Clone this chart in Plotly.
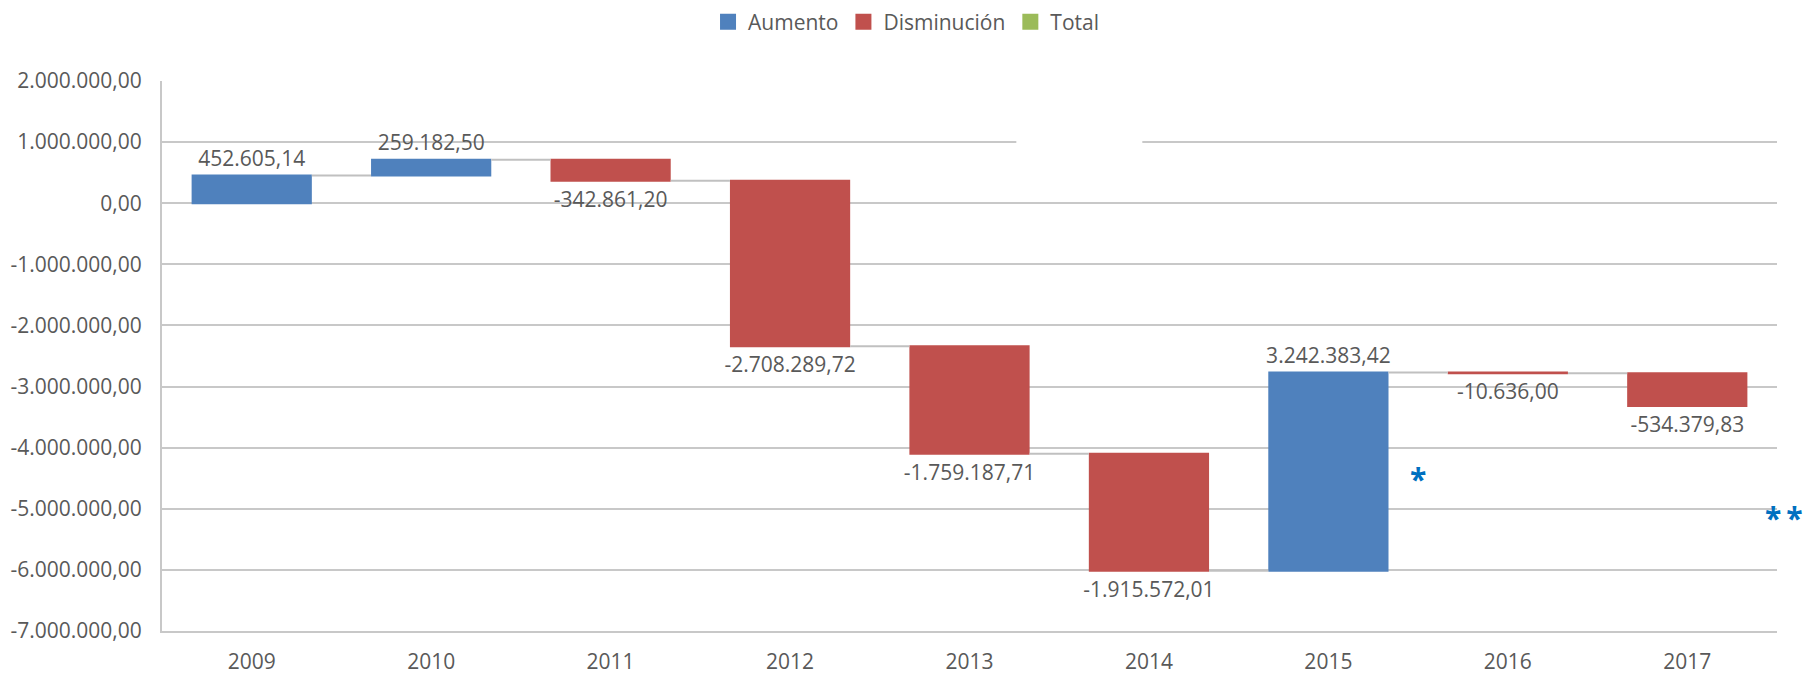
import plotly.graph_objects as go

years = ["2009", "2010", "2011", "2012", "2013", "2014", "2015", "2016", "2017"]
changes = [452605.14, 259182.50, -342861.20, -2708289.72, -1759187.71,
           -1915572.01, 3242383.42, -10636.00, -534379.83]
tick_values = [2e6, 1e6, 0, -1e6, -2e6, -3e6, -4e6, -5e6, -6e6, -7e6]
legend_names = ["Aumento", "Disminución", "Total"]
legend_colors = ["#4F81BD", "#C0504D", "#9BBB59"]


def es_fmt(v):
    s = f"{v:,.2f}"
    return s.replace(",", "X").replace(".", ",").replace("X", ".")


labels = [es_fmt(v) for v in changes]
tick_text = [es_fmt(v) for v in tick_values]

FONT = "Open Sans"
GRAY = "#595959"
GRID = "#C8C8C8"

fig = go.Figure()
fig.add_trace(go.Waterfall(
    x=years,
    y=changes,
    measure=["relative"] * len(changes),
    text=labels,
    textinfo="text",
    textposition="outside",
    constraintext="none",
    textfont=dict(family=FONT, size=21, color=GRAY),
    increasing=dict(marker=dict(color=legend_colors[0], line=dict(width=0))),
    decreasing=dict(marker=dict(color=legend_colors[1], line=dict(width=0))),
    totals=dict(marker=dict(color=legend_colors[2])),
    connector=dict(mode="between", line=dict(color="#C0C0C0", width=2)),
    showlegend=False,
    cliponaxis=False,
    hoverinfo="skip",
))

for name, col in zip(legend_names, legend_colors):
    fig.add_trace(go.Scatter(
        x=[None], y=[None], mode="markers", name=name,
        marker=dict(symbol="square", size=16, color=col),
    ))

# white gap on the 1.000.000 gridline (as in the original picture)
fig.add_shape(type="line", xref="paper", yref="y", x0=0.529, x1=0.607,
              y0=1e6, y1=1e6, line=dict(color="white", width=5), layer="above")

fig.add_annotation(x=6.5, y=-4.5e6, xref="x", yref="y", text="<b>*</b>", showarrow=False,
                   font=dict(family=FONT, size=30, color="#0070C0"))
fig.add_annotation(x=1.017, y=-5.15e6, xref="paper", yref="y", xanchor="right",
                   text="<b>*\u2009*</b>", showarrow=False, borderpad=0,
                   font=dict(family=FONT, size=30, color="#0070C0"))

# page body has an 8px margin: size the figure to fill the rest of the window
fig.update_layout(
    width=1804, height=666,
    margin=dict(l=154, r=35, t=73, b=43, autoexpand=False),
    paper_bgcolor="white", plot_bgcolor="white",
    font=dict(family=FONT, size=21, color=GRAY),
    waterfallgap=0.33,
    legend=dict(orientation="h", x=0.4607, xanchor="center", y=1.107, yanchor="middle",
                font=dict(family=FONT, size=21, color=GRAY),
                itemsizing="trace"),
    xaxis=dict(type="category", range=[-0.5, 8.5], showgrid=False, showline=True,
               linecolor=GRID, linewidth=2, ticks="outside", ticklen=11,
               tickcolor="rgba(0,0,0,0)", automargin=False,
               tickfont=dict(family=FONT, size=21, color=GRAY)),
    yaxis=dict(range=[-7e6, 2e6], tickvals=tick_values, ticktext=tick_text,
               showgrid=True, gridcolor=GRID, gridwidth=2, zeroline=False,
               showline=True, linecolor=GRID, linewidth=2, automargin=False,
               ticks="outside", ticklen=14, tickcolor="rgba(0,0,0,0)",
               tickfont=dict(family=FONT, size=21, color=GRAY)),
)

fig.write_html("out.html")
